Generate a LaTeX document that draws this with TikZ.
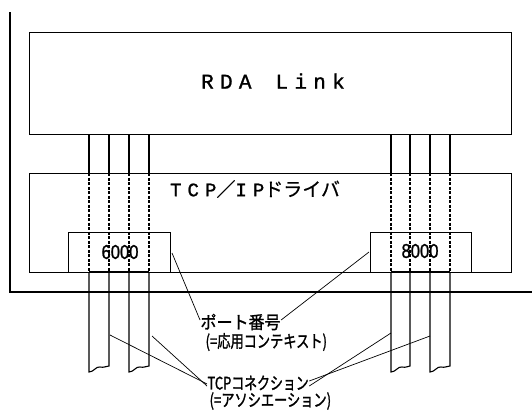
\documentclass[tikz,border=0pt]{standalone}
\usepackage{fontspec}
\setmainfont{Liberation Serif}
\newfontfamily\jp[FakeBold=1.5]{Noto Sans CJK JP}
\newfontfamily\jpplain[FakeBold=0.6]{Noto Sans CJK JP}
\newfontfamily\mono[LetterSpace=30,FakeBold=1.2]{Liberation Mono}
\newfontfamily\tcpmono[LetterSpace=32,FakeBold=1.2]{Liberation Mono}
\newfontfamily\sans[FakeBold=1.2]{Liberation Sans}
\begin{document}
\begin{tikzpicture}[x=1pt,y=-1pt,line width=1.1pt,
  box/.style={draw,fill=white,anchor=north west,inner sep=0pt},
  lead/.style={line width=0.7pt},
  portnum/.style={font=\sans\fontsize{20}{22}\selectfont,inner sep=0pt},
  jplabel/.style={font=\jp\fontsize{15}{17}\selectfont,inner sep=0pt,anchor=west}]
\useasboundingbox (0,0) rectangle (532,410);
% outer frame
\draw (10,12) -- (10,292) -- (532,292);
% boxes
\node[box,minimum width=482pt,minimum height=102pt] (rda) at (29,32) {};
\node[font=\mono\fontsize{21}{23}\selectfont,inner sep=0pt] (rdatxt) at (273,81) {RDA\hspace{24pt}Link};
\node[box,minimum width=482pt,minimum height=99pt] (tcp) at (29,173) {};
\node[font=\tcpmono\fontsize{19}{21}\selectfont,inner sep=0pt] (tcptxt) at (255,189)
  {TCP{\jpplain／}IP{\jpplain ドライバ}};
\node[box,minimum width=102pt,minimum height=40pt] (p6) at (68,232) {};
\node[box,minimum width=101pt,minimum height=40pt] (p8) at (370,232) {};
% tubes
\foreach \x in {89,109,129,149,391,410,430,450}{
  \draw (\x,134) -- (\x,173);
  \draw[dash pattern=on 3pt off 1.5pt] (\x,173) -- (\x,272);
}
\foreach \a/\b in {89/109,129/149,391/410,430/450}{
  \draw (\a,272) -- (\a,372) .. controls (\a+5,372) and (\a+7,366) .. (\a+11,367)
        .. controls (\a+15,368) and (\a+17,366) .. (\b,366) -- (\b,272);
}
\draw[line width=2pt] (89,272) -- (149,272);
\draw[line width=2pt] (391,272) -- (450,272);
\node[portnum] (t6) at (120,252) {\scalebox{0.83}[1]{6000}};
\node[portnum] (t8) at (420,251) {\scalebox{0.83}[1]{8000}};
% labels
\node[jplabel,font=\jp\fontsize{16}{18}\selectfont] (portA) at (200,322) {\scalebox{1}[1.1]{ポート番号}};
\node[jplabel] (portB) at (205,342) {\scalebox{0.88}[1.15]{(=応用コンテキスト)}};
\node[jplabel] (tcpA) at (207,383) {\scalebox{0.86}[1.15]{TCPコネクション}};
\node[jplabel] (tcpB) at (209,401) {\scalebox{0.88}[1.15]{(=アソシエーション)}};
% leaders
\coordinate (l6) at (172,253);
\coordinate (l8) at (369,252);
\coordinate (c1) at (110,335);
\coordinate (c2) at (152,336);
\coordinate (c3) at (391,333);
\coordinate (c4) at (430,336);
\draw[lead] (l6) -- ([yshift=2pt]portA.west);
\draw[lead] (l8) -- ([yshift=2pt]portA.east);
\draw[lead] (c1) -- ([yshift=-1pt]tcpA.west);
\draw[lead] (c2) -- ([yshift=-3pt]tcpA.west);
\draw[lead] (c3) -- ([yshift=-3pt]tcpA.east);
\draw[lead] (c4) -- ([yshift=2pt]tcpA.east);
\end{tikzpicture}
\end{document}
